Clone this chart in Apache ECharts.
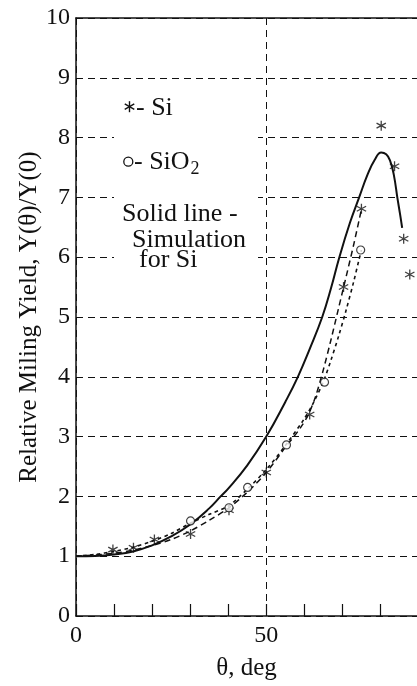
<!DOCTYPE html>
<html>
<head>
<meta charset="utf-8">
<script src="https://cdn.jsdelivr.net/npm/echarts@6/dist/echarts.min.js"></script>
<style>
  html, body { margin: 0; padding: 0; background: #fff; }
  #chart { width: 417px; height: 686px; }
</style>
</head>
<body>
<div id="chart"></div>
<script>
// Simulated milling yield for Si (solid curve)
const simTheta = [0, 5, 10, 15, 20, 25, 30, 35, 38, 40, 45, 50, 55, 58.3, 61.5, 64.7, 67, 69.2, 72, 74.4, 76.6, 78.5, 80.2, 81.5, 82.5, 83.5, 84.5, 85.2, 85.7];
const simYield = [1, 1.005, 1.03, 1.08, 1.18, 1.33, 1.53, 1.8, 2.0, 2.13, 2.52, 3.0, 3.58, 4.0, 4.48, 5.0, 5.48, 6.0, 6.58, 7.0, 7.38, 7.63, 7.75, 7.72, 7.62, 7.38, 6.97, 6.7, 6.49];

// Fitted trend through the Si measurements (dashed)
const siFitTheta = [0, 5, 10, 15, 20, 25, 30, 35, 40, 45, 50, 55, 57, 59, 61, 63, 65, 67, 69, 71, 73, 75];
const siFitYield = [1, 1.02, 1.05, 1.1, 1.18, 1.28, 1.42, 1.6, 1.8, 2.07, 2.4, 2.82, 2.98, 3.15, 3.36, 3.68, 4.12, 4.62, 5.15, 5.68, 6.22, 6.8];

// Fitted trend through the SiO2 measurements (dotted)
const sio2FitTheta = [0, 5, 10, 15, 20, 25, 30, 35, 40, 45, 50, 55, 60, 62.5, 65, 67, 69, 71, 73, 74.4, 75];
const sio2FitYield = [1, 1.03, 1.08, 1.15, 1.25, 1.38, 1.55, 1.7, 1.84, 2.12, 2.45, 2.85, 3.3, 3.58, 3.92, 4.28, 4.68, 5.12, 5.6, 5.97, 6.12];

// Measured points
const siTheta = [9.7, 15.1, 20.6, 30.1, 40.2, 50, 61.4, 70.3, 75, 80.2, 83.7, 86.1, 87.7];
const siYield = [1.11, 1.14, 1.28, 1.37, 1.77, 2.4, 3.37, 5.5, 6.81, 8.2, 7.52, 6.31, 5.71];
const sio2Theta = [30.1, 40.2, 45.1, 55.3, 65.3, 74.8];
const sio2Yield = [1.59, 1.81, 2.15, 2.86, 3.91, 6.12];

// Axis ticks
const xLabelTicks = [0, 50];
const yTicks = [0, 1, 2, 3, 4, 5, 6, 7, 8, 9, 10];

const pair = (xs, ys) => xs.map((x, i) => [x, ys[i]]);

const FONT = 'Liberation Serif';
const INK = '#111';
// six-armed asterisk built from three crossing bars
const ASTERISK = 'path://M8.8 0L11.2 0L11.2 20L8.8 20Z' +
  'M1.94 3.96L19.26 13.96L18.06 16.04L0.74 6.04Z' +
  'M0.74 13.96L18.06 3.96L19.26 6.04L1.94 16.04Z';

// legend asterisk: three short strokes around a centre point
function asteriskStrokes(cx, cy, r) {
  const out = [];
  [90, 30, -30].forEach(deg => {
    const a = deg * Math.PI / 180;
    const dx = r * Math.cos(a), dy = r * Math.sin(a);
    out.push({
      type: 'line', z: 51,
      shape: { x1: cx - dx, y1: cy - dy, x2: cx + dx, y2: cy + dy },
      style: { stroke: INK, lineWidth: 1.4 }
    });
  });
  return out;
}

const chart = echarts.init(document.getElementById('chart'), null, { renderer: 'canvas' });

chart.setOption({
  animation: false,
  backgroundColor: '#fff',
  grid: { left: 76, top: 18, width: 344, height: 599, containLabel: false },
  xAxis: [
    {
      type: 'value', position: 'bottom', min: 0, max: 89.6, interval: 10,
      axisLine: { show: true, lineStyle: { color: INK, width: 1.5 } },
      axisTick: { show: true, inside: true, length: 12, lineStyle: { color: INK, width: 1.2 } },
      axisLabel: {
        color: INK, fontFamily: FONT, fontSize: 24, margin: 8,
        showMaxLabel: false,
        formatter: v => (xLabelTicks.indexOf(v) >= 0 ? String(v) : '')
      },
      splitLine: { show: false },
      name: 'θ, deg', nameLocation: 'middle', nameGap: 40, nameMoveOverlap: false,
      nameTextStyle: { color: INK, fontFamily: FONT, fontSize: 25 }
    },
    {
      type: 'value', position: 'top', min: 0, max: 89.6, interval: 50,
      axisLine: { show: true, lineStyle: { color: INK, width: 1.5 } },
      axisTick: { show: false },
      axisLabel: { show: false },
      splitLine: { show: true, lineStyle: { type: [7, 5], color: INK, width: 1 } }
    }
  ],
  yAxis: {
    type: 'value', min: yTicks[0], max: yTicks[yTicks.length - 1], interval: 1,
    axisLine: { show: true, lineStyle: { color: INK, width: 1.5 } },
    axisTick: { show: false },
    axisLabel: { color: INK, fontFamily: FONT, fontSize: 24, margin: 6 },
    splitLine: { show: true, lineStyle: { type: [7, 5], color: INK, width: 1 } },
    name: 'Relative Miling Yield, Y(θ)/Y(0)', nameLocation: 'middle', nameGap: 34, nameMoveOverlap: false,
    nameTextStyle: { color: INK, fontFamily: FONT, fontSize: 25 }
  },
  series: [
    {
      name: 'Simulation for Si', type: 'line', data: pair(simTheta, simYield),
      showSymbol: false, smooth: 0.45, z: 5,
      lineStyle: { color: INK, width: 2 }
    },
    {
      name: 'Si fit', type: 'line', data: pair(siFitTheta, siFitYield),
      showSymbol: false, smooth: 0.3, z: 4,
      lineStyle: { color: INK, width: 1.5, type: [6, 4] }
    },
    {
      name: 'SiO2 fit', type: 'line', data: pair(sio2FitTheta, sio2FitYield),
      showSymbol: false, smooth: 0.3, z: 4,
      lineStyle: { color: INK, width: 1.6, type: [3.5, 3.5] }
    },
    {
      name: 'Si', type: 'scatter', data: pair(siTheta, siYield),
      symbol: ASTERISK, symbolSize: 10, z: 6,
      itemStyle: { color: INK }
    },
    {
      name: 'SiO2', type: 'scatter', data: pair(sio2Theta, sio2Yield),
      symbol: 'circle', symbolSize: 8, z: 6,
      itemStyle: { color: '#fff', borderColor: INK, borderWidth: 1.2 }
    }
  ],
  graphic: [
    { type: 'rect', z: 50, shape: { x: 114, y: 88, width: 144, height: 195 }, style: { fill: '#fff' } }
  ].concat(asteriskStrokes(129.5, 106.7, 5.5)).concat([
    { type: 'text', z: 51, x: 136, y: 108, style: { text: '- Si', font: '26px "Liberation Serif"', fill: INK, verticalAlign: 'middle' } },
    { type: 'circle', z: 51, shape: { cx: 128.3, cy: 161.7, r: 4.5 }, style: { fill: 'none', stroke: INK, lineWidth: 1.3 } },
    { type: 'text', z: 51, x: 134, y: 162.5, style: { text: '- SiO', font: '26px "Liberation Serif"', fill: INK, verticalAlign: 'middle' } },
    { type: 'text', z: 51, x: 190.5, y: 169.5, style: { text: '2', font: '18px "Liberation Serif"', fill: INK, verticalAlign: 'middle' } },
    { type: 'text', z: 51, x: 122, y: 214.5, style: { text: 'Solid line -', font: '26px "Liberation Serif"', fill: INK, verticalAlign: 'middle' } },
    { type: 'text', z: 51, x: 132, y: 240, style: { text: 'Simulation', font: '26px "Liberation Serif"', fill: INK, verticalAlign: 'middle' } },
    { type: 'text', z: 51, x: 139, y: 260.5, style: { text: 'for Si', font: '26px "Liberation Serif"', fill: INK, verticalAlign: 'middle' } }
  ])
});
</script>
</body>
</html>
